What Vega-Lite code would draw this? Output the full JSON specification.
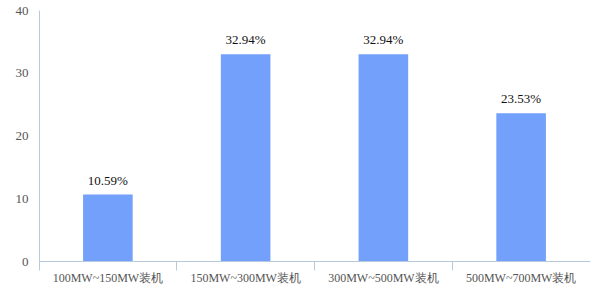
{
  "$schema": "https://vega.github.io/schema/vega-lite/v6.json",
  "width": 551,
  "height": 251,
  "autosize": "none",
  "padding": {"left": 39, "top": 10, "right": 10, "bottom": 39},
  "background": "white",
  "config": {
    "view": {"stroke": null},
    "axis": {"grid": false, "domainColor": "#b7c9dc", "tickColor": "#b7c9dc", "labelColor": "#555555", "labelFontSize": 12, "labelFont": "Liberation Serif"}
  },
  "data": {
    "values": [
      {"category": "100MW~150MW装机", "value": 10.59, "label": "10.59%"},
      {"category": "150MW~300MW装机", "value": 32.94, "label": "32.94%"},
      {"category": "300MW~500MW装机", "value": 32.94, "label": "32.94%"},
      {"category": "500MW~700MW装机", "value": 23.53, "label": "23.53%"}
    ]
  },
  "encoding": {
    "x": {
      "field": "category",
      "type": "nominal",
      "sort": null,
      "scale": {"paddingInner": 0, "paddingOuter": 0},
      "axis": {"title": null, "labelAngle": 0, "bandPosition": 0, "tickSize": 9, "labelPadding": 2, "labelAlign": "center"}
    },
    "y": {
      "field": "value",
      "type": "quantitative",
      "scale": {"domain": [0, 40]},
      "axis": {"title": null, "values": [0, 10, 20, 30, 40], "ticks": false, "labelPadding": 11, "domain": true, "labelFontSize": 13}
    }
  },
  "layer": [
    {
      "mark": {"type": "bar", "color": "#73a0fa", "width": {"band": 0.36}}
    },
    {
      "mark": {"type": "text", "baseline": "bottom", "dy": -7, "fontSize": 13, "color": "#111111", "font": "Liberation Serif"},
      "encoding": {"text": {"field": "label", "type": "nominal"}}
    }
  ]
}
